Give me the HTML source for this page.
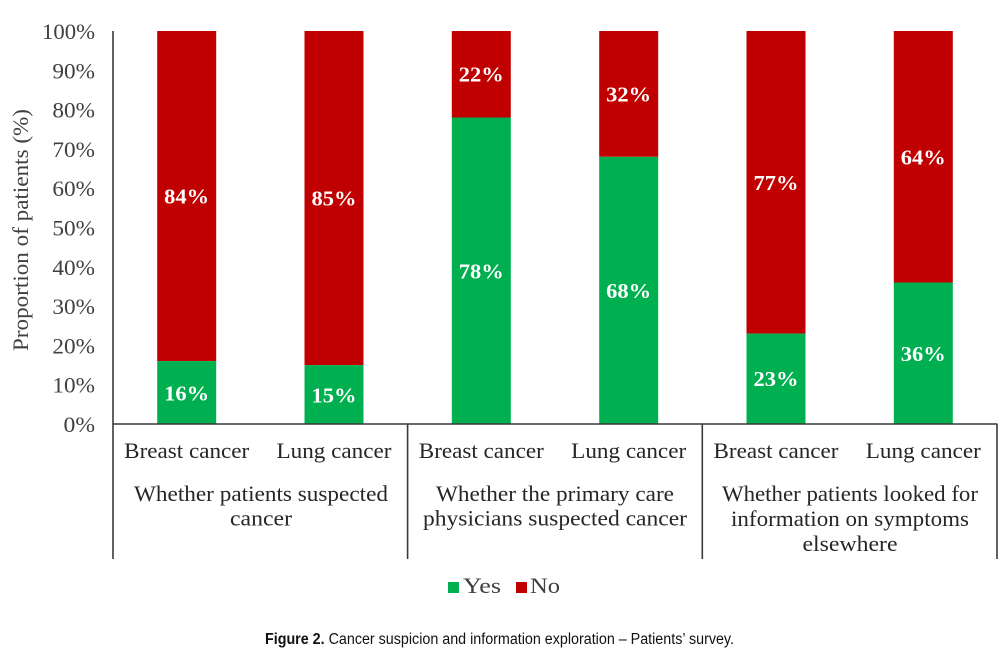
<!DOCTYPE html>
<html>
<head>
<meta charset="utf-8">
<style>
  html, body { margin:0; padding:0; background:#fff; }
  body { width:1008px; height:653px; overflow:hidden; }
  svg { display:block; }
  .tick { font-family:"Liberation Serif", serif; font-size:22px; fill:#404040; }
  .cat { font-family:"Liberation Serif", serif; font-size:22px; fill:#262626; }
  .dl { font-family:"Liberation Serif", serif; font-size:21px; font-weight:bold; fill:#fff; }
  .cap { font-family:"Liberation Sans Narrow", "Liberation Sans", sans-serif; font-size:15.5px; fill:#111; }
</style>
</head>
<body>
<svg width="1008" height="653" viewBox="0 0 1008 653" xmlns="http://www.w3.org/2000/svg">
  <rect x="0" y="0" width="1008" height="653" fill="#fff"/>

  <!-- Bars -->
  <!-- 1: 16/84 -->
  <rect x="157.2" y="31" width="59" height="330.1" fill="#C00000"/>
  <rect x="157.2" y="361.1" width="59" height="62.9" fill="#00B050"/>
  <!-- 2: 15/85 -->
  <rect x="304.5" y="31" width="59" height="334.1" fill="#C00000"/>
  <rect x="304.5" y="365.1" width="59" height="58.9" fill="#00B050"/>
  <!-- 3: 78/22 -->
  <rect x="451.8" y="31" width="59" height="86.5" fill="#C00000"/>
  <rect x="451.8" y="117.5" width="59" height="306.5" fill="#00B050"/>
  <!-- 4: 68/32 -->
  <rect x="599.2" y="31" width="59" height="125.8" fill="#C00000"/>
  <rect x="599.2" y="156.8" width="59" height="267.2" fill="#00B050"/>
  <!-- 5: 23/77 -->
  <rect x="746.5" y="31" width="59" height="302.6" fill="#C00000"/>
  <rect x="746.5" y="333.6" width="59" height="90.4" fill="#00B050"/>
  <!-- 6: 36/64 -->
  <rect x="893.8" y="31" width="59" height="251.5" fill="#C00000"/>
  <rect x="893.8" y="282.5" width="59" height="141.5" fill="#00B050"/>

  <!-- Data labels -->
  <text class="dl" x="186.7" y="203.5" text-anchor="middle" textLength="45" lengthAdjust="spacingAndGlyphs">84%</text>
  <text class="dl" x="186.7" y="400.5" text-anchor="middle" textLength="45" lengthAdjust="spacingAndGlyphs">16%</text>
  <text class="dl" x="334" y="205.5" text-anchor="middle" textLength="45" lengthAdjust="spacingAndGlyphs">85%</text>
  <text class="dl" x="334" y="402.5" text-anchor="middle" textLength="45" lengthAdjust="spacingAndGlyphs">15%</text>
  <text class="dl" x="481.3" y="81.5" text-anchor="middle" textLength="45" lengthAdjust="spacingAndGlyphs">22%</text>
  <text class="dl" x="481.3" y="278.5" text-anchor="middle" textLength="45" lengthAdjust="spacingAndGlyphs">78%</text>
  <text class="dl" x="628.7" y="101.5" text-anchor="middle" textLength="45" lengthAdjust="spacingAndGlyphs">32%</text>
  <text class="dl" x="628.7" y="298" text-anchor="middle" textLength="45" lengthAdjust="spacingAndGlyphs">68%</text>
  <text class="dl" x="776" y="190" text-anchor="middle" textLength="45" lengthAdjust="spacingAndGlyphs">77%</text>
  <text class="dl" x="776" y="386" text-anchor="middle" textLength="45" lengthAdjust="spacingAndGlyphs">23%</text>
  <text class="dl" x="923.3" y="164.5" text-anchor="middle" textLength="45" lengthAdjust="spacingAndGlyphs">64%</text>
  <text class="dl" x="923.3" y="361" text-anchor="middle" textLength="45" lengthAdjust="spacingAndGlyphs">36%</text>

  <!-- Axes -->
  <line x1="113" y1="31" x2="113" y2="559" stroke="#3a3a3a" stroke-width="1.6"/>
  <line x1="113" y1="424" x2="997.5" y2="424" stroke="#3a3a3a" stroke-width="1.6"/>
  <line x1="407.6" y1="424" x2="407.6" y2="559" stroke="#3a3a3a" stroke-width="1.6"/>
  <line x1="702.3" y1="424" x2="702.3" y2="559" stroke="#3a3a3a" stroke-width="1.6"/>
  <line x1="997" y1="424" x2="997" y2="559" stroke="#3a3a3a" stroke-width="1.6"/>

  <!-- Y tick labels -->
  <text class="tick" x="95" y="39" text-anchor="end" textLength="53" lengthAdjust="spacingAndGlyphs">100%</text>
  <text class="tick" x="95" y="78.3" text-anchor="end" textLength="42.6" lengthAdjust="spacingAndGlyphs">90%</text>
  <text class="tick" x="95" y="117.6" text-anchor="end" textLength="42.6" lengthAdjust="spacingAndGlyphs">80%</text>
  <text class="tick" x="95" y="156.9" text-anchor="end" textLength="42.6" lengthAdjust="spacingAndGlyphs">70%</text>
  <text class="tick" x="95" y="196.2" text-anchor="end" textLength="42.6" lengthAdjust="spacingAndGlyphs">60%</text>
  <text class="tick" x="95" y="235.5" text-anchor="end" textLength="42.6" lengthAdjust="spacingAndGlyphs">50%</text>
  <text class="tick" x="95" y="274.8" text-anchor="end" textLength="42.6" lengthAdjust="spacingAndGlyphs">40%</text>
  <text class="tick" x="95" y="314.1" text-anchor="end" textLength="42.6" lengthAdjust="spacingAndGlyphs">30%</text>
  <text class="tick" x="95" y="353.4" text-anchor="end" textLength="42.6" lengthAdjust="spacingAndGlyphs">20%</text>
  <text class="tick" x="95" y="392.7" text-anchor="end" textLength="42.6" lengthAdjust="spacingAndGlyphs">10%</text>
  <text class="tick" x="95" y="432" text-anchor="end" textLength="31.5" lengthAdjust="spacingAndGlyphs">0%</text>

  <!-- Y axis title -->
  <text class="tick" transform="translate(28,230) rotate(-90)" x="0" y="0" text-anchor="middle" textLength="242" lengthAdjust="spacingAndGlyphs">Proportion of patients (%)</text>

  <!-- Category labels -->
  <text class="cat" x="186.7" y="458" text-anchor="middle" textLength="125" lengthAdjust="spacingAndGlyphs">Breast cancer</text>
  <text class="cat" x="334" y="458" text-anchor="middle" textLength="115" lengthAdjust="spacingAndGlyphs">Lung cancer</text>
  <text class="cat" x="481.3" y="458" text-anchor="middle" textLength="125" lengthAdjust="spacingAndGlyphs">Breast cancer</text>
  <text class="cat" x="628.7" y="458" text-anchor="middle" textLength="115" lengthAdjust="spacingAndGlyphs">Lung cancer</text>
  <text class="cat" x="776" y="458" text-anchor="middle" textLength="125" lengthAdjust="spacingAndGlyphs">Breast cancer</text>
  <text class="cat" x="923.3" y="458" text-anchor="middle" textLength="115" lengthAdjust="spacingAndGlyphs">Lung cancer</text>

  <!-- Group labels -->
  <text class="cat" x="261" y="501" text-anchor="middle" textLength="254" lengthAdjust="spacingAndGlyphs">Whether patients suspected</text>
  <text class="cat" x="261" y="525.5" text-anchor="middle" textLength="62" lengthAdjust="spacingAndGlyphs">cancer</text>

  <text class="cat" x="555" y="501" text-anchor="middle" textLength="238" lengthAdjust="spacingAndGlyphs">Whether the primary care</text>
  <text class="cat" x="555" y="525.5" text-anchor="middle" textLength="264" lengthAdjust="spacingAndGlyphs">physicians suspected cancer</text>

  <text class="cat" x="850" y="501" text-anchor="middle" textLength="256" lengthAdjust="spacingAndGlyphs">Whether patients looked for</text>
  <text class="cat" x="850" y="526" text-anchor="middle" textLength="238" lengthAdjust="spacingAndGlyphs">information on symptoms</text>
  <text class="cat" x="850" y="551" text-anchor="middle" textLength="95" lengthAdjust="spacingAndGlyphs">elsewhere</text>

  <!-- Legend -->
  <rect x="448" y="582" width="11" height="11" fill="#00B050"/>
  <text class="tick" x="463" y="593" textLength="38" lengthAdjust="spacingAndGlyphs">Yes</text>
  <rect x="516" y="582" width="11" height="11" fill="#C00000"/>
  <text class="tick" x="530" y="593" textLength="30" lengthAdjust="spacingAndGlyphs">No</text>

  <!-- Caption -->
  <text class="cap" x="265" y="644" textLength="469" lengthAdjust="spacingAndGlyphs"><tspan font-weight="bold">Figure 2.</tspan> Cancer suspicion and information exploration – Patients’ survey.</text>
</svg>
</body>
</html>
